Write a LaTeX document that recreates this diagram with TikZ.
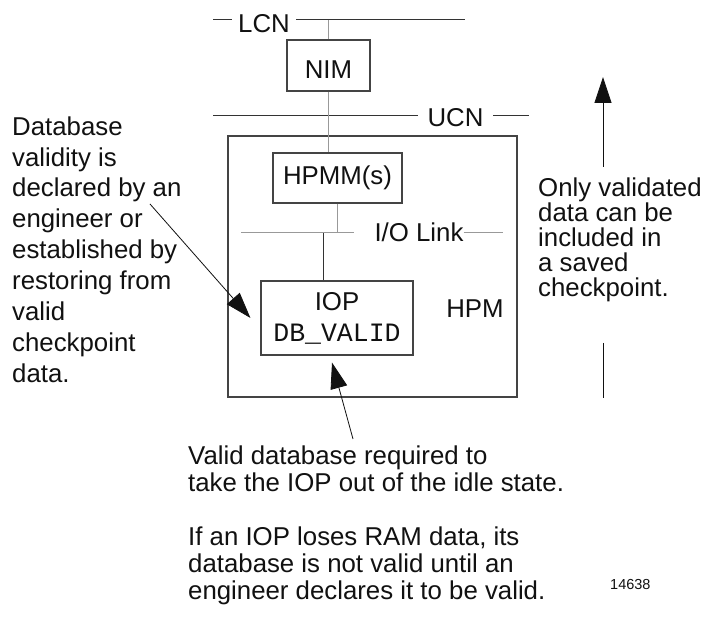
\documentclass[tikz,border=0pt]{standalone}
\usepackage{fontspec}
\setmainfont{Liberation Sans}
\setmonofont{Liberation Mono}
\usetikzlibrary{arrows.meta}
\definecolor{busgray}{HTML}{999999}
\definecolor{linedark}{HTML}{333333}
\definecolor{boxgray}{HTML}{444444}
\definecolor{txt}{HTML}{111111}
\begin{document}
\begin{tikzpicture}[x=1pt,y=-1pt,
  bus/.style={draw=busgray, line width=1pt},
  dark/.style={draw=linedark, line width=1pt},
  box/.style={draw=boxgray, line width=1.1pt, inner sep=0pt, text=txt,
    font=\fontsize{25.8}{31}\selectfont, align=center},
  lbl/.style={inner sep=0pt, text=txt, font=\fontsize{25.8}{25}\selectfont},
  note/.style={align=left, inner sep=0pt, anchor=base west, text=txt},
  bigarrow/.style={-{Triangle[length=26pt,width=17pt]}, line width=0.8pt, draw=txt},
]
\useasboundingbox (0,0) rectangle (705,620);
\fill[white] (0,0) rectangle (705,620);

% bus end points
\coordinate (lcnL) at (213,20);
\coordinate (lcnR) at (465,20);
\coordinate (ucnL) at (213,116);
\coordinate (ucnR) at (529,116);
\coordinate (ioL) at (241,233);
\coordinate (ioR) at (503,233);

% boxes
\node[box, minimum width=289pt, minimum height=261pt] (hpm) at (372.5,266.5) {};
\node[box, minimum width=83pt, minimum height=51pt, text height=27pt, text depth=0pt] (nim) at (328.5,65.5) {NIM};
\node[box, minimum width=129pt, minimum height=50pt] (hpmm) at (337.5,178) {HPMM(s)};
\node[box, minimum width=152pt, minimum height=74pt] (iop) at (337,318)
  {IOP\\{\fontsize{26.5}{31}\selectfont\ttfamily DB\_VALID}};
\node[lbl, anchor=base] (hpmlbl) at (475,318) {HPM};

% LCN and UCN buses
\draw[dark] (lcnL) -- (lcnR);
\draw[dark] (ucnL) -- (ucnR);
\node[lbl, fill=white, inner xsep=6pt] (lcn) at (264,24) {LCN};
\node[lbl, fill=white, inner xsep=10pt] (ucn) at (455.5,118) {UCN};

% I/O link bus
\node[lbl] (iolink) at (419,232.5) {I/O Link};
\draw[bus] (ioL) -- ([xshift=-20pt]iolink.west |- ioL);
\draw[bus] (iolink.east |- ioR) -- (ioR);

% vertical connections
\draw[bus] (nim.north) -- (nim.north |- lcnL);
\draw[bus] (nim.south) -- (nim.south |- hpmm.north);
\draw[bus] (hpmm.south) -- (hpmm.south |- ioL);
\draw[dark] ([xshift=-14pt]iop.north) -- ([xshift=-14pt]iop.north |- ioL);

% notes (base anchor = baseline of the last line)
\node[note, font=\fontsize{25.8}{31}\selectfont] (leftnote) at (12,383)
  {Database\\validity is\\declared by an\\engineer or\\established by\\restoring from\\valid\\checkpoint\\data.};
\node[note, font=\fontsize{25.8}{25}\selectfont] (rightnote) at (538,297)
  {Only validated\\data can be\\included in\\a saved\\checkpoint.};
\node[note, font=\fontsize{25.8}{27}\selectfont] (botnote) at (188,492)
  {Valid database required to\\take the IOP out of the idle state.};
\node[note, font=\fontsize{25.8}{27}\selectfont] (ramnote) at (188,599)
  {If an IOP loses RAM data, its\\database is not valid until an\\engineer declares it to be valid.};
\node[note, font=\fontsize{14.5}{15}\selectfont] (tag) at (610,590) {14638};

% arrows
\coordinate (leftTail) at (150,204);
\draw[bigarrow] (leftTail) -- ([xshift=-10pt]iop.west);
\coordinate (botTail) at (353,439);
\draw[bigarrow] (botTail) -- ([xshift=-5pt,yshift=-7pt]iop.south);
\coordinate (upTail) at (603,167);
\coordinate (upTip) at (603,77);
\draw[bigarrow] (upTail) -- (upTip);
\coordinate (downTop) at (603,343);
\coordinate (downBot) at (603,398);
\draw[line width=0.8pt, draw=txt] (downTop) -- (downBot);
\end{tikzpicture}
\end{document}
